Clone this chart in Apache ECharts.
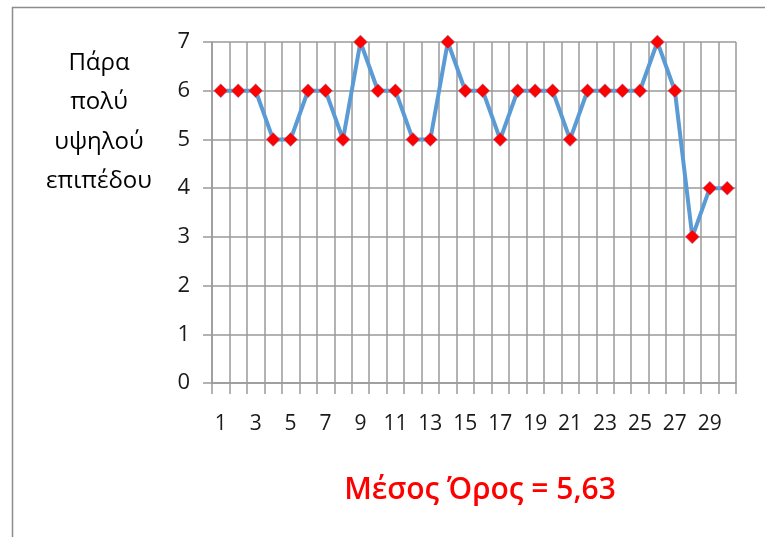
<!DOCTYPE html>
<html><head><meta charset="utf-8">
<script src="https://cdn.jsdelivr.net/npm/echarts@6/dist/echarts.min.js"></script>
<style>html,body{margin:0;padding:0;background:#fff}#c{width:765px;height:537px}</style>
</head><body><div id="c"></div>
<script>
const categories = Array.from({length:30},(_,i)=>String(i+1));
const values = [6,6,6,5,5,6,6,5,7,6,6,5,5,7,6,6,5,6,6,6,5,6,6,6,6,7,6,3,4,4];
const yTicks = [0,1,2,3,4,5,6,7];
const yName = ['Πάρα','πολύ','υψηλού','επιπέδου'];
const titleText = 'Μέσος Όρος = 5,63';

const chart = echarts.init(document.getElementById('c'));
const gridCol = '#9a9a9a';
chart.setOption({
  animation:false,
  backgroundColor:'#fff',
  title:{text:titleText,left:475,textAlign:'center',top:470,
    textStyle:{color:'#ff0000',fontSize:30,fontWeight:600,fontFamily:'Open Sans'}},
  graphic:[
    {type:'rect',shape:{x:12.5,y:7.5,width:800,height:600},style:{fill:'none',stroke:'#8c8c8c',lineWidth:1.5}},
    {type:'text',x:99,y:43,style:{text:yName.join('\n'),fill:'#000',font:'500 24px "Open Sans"',textAlign:'center',lineHeight:39.5}}
  ],
  grid:{left:212,right:29,top:42,bottom:154},
  xAxis:{type:'category',data:categories,boundaryGap:true,
    axisLine:{lineStyle:{color:gridCol,width:1.5}},
    axisTick:{show:true,interval:0,length:11,lineStyle:{color:gridCol,width:1.5}},
    splitLine:{show:true,interval:0,lineStyle:{color:gridCol,width:1.5}},
    axisLabel:{interval:1,margin:31,fontSize:21,color:'#1a1a1a',fontFamily:'Open Sans'}},
  yAxis:{type:'value',min:yTicks[0],max:yTicks[yTicks.length-1],interval:1,
    axisLine:{show:true,lineStyle:{color:gridCol,width:1.5}},
    axisTick:{show:true,length:9,lineStyle:{color:gridCol,width:1.5}},
    splitLine:{show:true,lineStyle:{color:gridCol,width:1.5}},
    axisLabel:{margin:22,fontSize:22,color:'#1a1a1a',fontFamily:'Open Sans'}},
  series:[{type:'line',data:values,symbol:'diamond',symbolSize:14,showAllSymbol:true,
    lineStyle:{color:'#5b9bd5',width:4},
    itemStyle:{color:'#ff0000',borderColor:'#7fa8d8',borderWidth:0.5}}]
});
</script></body></html>
